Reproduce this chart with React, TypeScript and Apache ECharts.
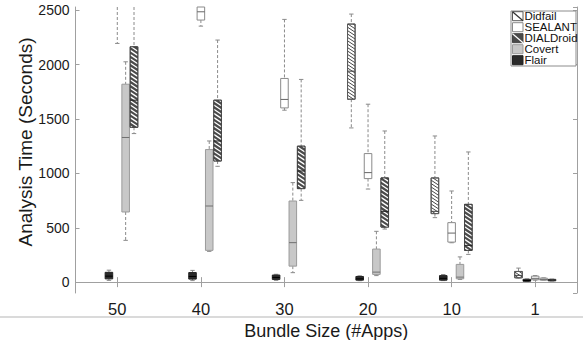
import React, { useEffect, useRef } from "react";
import * as echarts from "echarts";

const categories = ["50", "40", "30", "20", "10", "1"];
const yTicks = [0, 500, 1000, 1500, 2000, 2500];
const legendOrder = ["Didfail", "SEALANT", "DIALDroid", "Covert", "Flair"];

// Each row: [min, q1, median, q3, max] for the bundle sizes 50, 40, 30, 20, 10, 1
const didfail = [
  [2600, 2800, 3000, 3300, 3600],
  [2600, 2800, 3000, 3300, 3600],
  [2600, 2750, 2950, 3200, 3500],
  [1418, 1682, 1940, 2373, 2465],
  [593, 630, 651, 958, 1344],
  [37, 40, 62, 98, 129],
];
const flair = [
  [16, 30, 55, 90, 110],
  [14, 28, 52, 88, 108],
  [16, 25, 43, 65, 72],
  [13, 18, 30, 52, 58],
  [14, 18, 35, 60, 70],
  [5, 8, 15, 26, 30],
];
const sealant = [
  [2195, 2700, 2900, 3100, 3400],
  [2354, 2410, 2486, 2650, 2900],
  [1581, 1602, 1680, 1873, 2416],
  [856, 952, 1007, 1182, 1636],
  [362, 368, 451, 547, 838],
  [18, 22, 35, 55, 60],
];
const covert = [
  [384, 645, 1330, 1820, 2026],
  [283, 292, 700, 1219, 1298],
  [87, 147, 363, 746, 915],
  [60, 71, 92, 304, 467],
  [25, 31, 46, 163, 232],
  [16, 18, 25, 37, 40],
];
const dialdroid = [
  [1366, 1424, 1673, 2164, 2700],
  [1065, 1114, 1298, 1673, 2226],
  [752, 860, 1022, 1250, 1864],
  [488, 506, 651, 958, 1390],
  [255, 292, 338, 715, 1197],
  [10, 13, 18, 25, 28],
];

const FONT = "'Liberation Sans', Arial, Helvetica, sans-serif";
const FRAME = "#a0a0a0";
const WHISK = "#8a8a8a";

type Look = {
  fill: string;
  stroke: string;
  median: string;
  hatch?: { color: string; spacing: number; drop: number; width: number };
};

const looks: Record<string, Look> = {
  Didfail: { fill: "#ffffff", stroke: "#5a5a5a", median: "#444", hatch: { color: "#333", spacing: 3.4, drop: 5, width: 0.9 } },
  Flair: { fill: "#2a2a2a", stroke: "#222", median: "#000" },
  SEALANT: { fill: "#ffffff", stroke: "#8a8a8a", median: "#666" },
  Covert: { fill: "#c8c8c8", stroke: "#9a9a9a", median: "#707070" },
  DIALDroid: { fill: "#4a4a4a", stroke: "#444", median: "#222", hatch: { color: "#ffffff", spacing: 4.2, drop: 5, width: 1.3 } },
};

const seriesDefs: { name: string; data: number[][] }[] = [
  { name: "Didfail", data: didfail },
  { name: "Flair", data: flair },
  { name: "SEALANT", data: sealant },
  { name: "Covert", data: covert },
  { name: "DIALDroid", data: dialdroid },
];

function hatchLines(x0: number, w: number, ytop: number, ybot: number, h: { color: string; spacing: number; drop: number; width: number }) {
  const out: any[] = [];
  const d = h.drop;
  let a = Math.floor((ytop - d) / h.spacing) * h.spacing;
  while (a <= ybot) {
    const t0 = Math.max(0, (ytop - a) / d);
    const t1 = Math.min(1, (ybot - a) / d);
    if (t1 > t0) {
      out.push({
        type: "line",
        shape: { x1: x0 + t0 * w, y1: a + t0 * d, x2: x0 + t1 * w, y2: a + t1 * d },
        style: { stroke: h.color, lineWidth: h.width },
        silent: true,
      });
    }
    a += h.spacing;
  }
  return out;
}

function makeRender(k: number, look: Look) {
  return (params: any, api: any) => {
    const ci = api.value(0);
    const bw = api.size([1, 0])[0];
    const w = bw * 0.1;
    const cx = api.coord([ci, 0])[0] + (k - 2) * w;
    const cs = params.coordSys;
    const top = cs.y;
    const bot = cs.y + cs.height;
    const Y = (v: number) => api.coord([ci, v])[1];
    const cl = (y: number) => Math.max(top, Math.min(bot, y));
    const mn = api.value(1), q1 = api.value(2), md = api.value(3), q3 = api.value(4), mx = api.value(5);
    const yMx = Y(mx), yQ3 = Y(q3), yMd = Y(md), yQ1 = Y(q1), yMn = Y(mn);
    const children: any[] = [];
    const dash = { stroke: WHISK, lineWidth: 1, lineDash: [3, 2] };
    const capW = 2.2;
    if (cl(yQ3) - cl(yMx) > 0.5) {
      children.push({ type: "line", shape: { x1: cx, y1: cl(yMx), x2: cx, y2: cl(yQ3) }, style: dash });
    }
    if (yMx >= top && yMx <= bot) {
      children.push({ type: "line", shape: { x1: cx - capW, y1: yMx, x2: cx + capW, y2: yMx }, style: { stroke: WHISK, lineWidth: 1 } });
    }
    if (cl(yMn) - cl(yQ1) > 0.5) {
      children.push({ type: "line", shape: { x1: cx, y1: cl(yQ1), x2: cx, y2: cl(yMn) }, style: dash });
    }
    if (yMn >= top && yMn <= bot) {
      children.push({ type: "line", shape: { x1: cx - capW, y1: yMn, x2: cx + capW, y2: yMn }, style: { stroke: WHISK, lineWidth: 1 } });
    }
    const bt = cl(yQ3);
    const bb = cl(yQ1);
    if (bb - bt > 0.3) {
      const x0 = cx - w / 2 + 0.4;
      const bwid = w - 0.8;
      children.push({
        type: "rect",
        shape: { x: x0, y: bt, width: bwid, height: bb - bt },
        style: { fill: look.fill, stroke: look.stroke, lineWidth: 1 },
      });
      if (look.hatch) {
        children.push(...hatchLines(x0, bwid, bt, bb, look.hatch));
        children.push({
          type: "rect",
          shape: { x: x0, y: bt, width: bwid, height: bb - bt },
          style: { fill: "none", stroke: look.stroke, lineWidth: 1 },
        });
      }
      if (yMd >= top && yMd <= bot) {
        children.push({
          type: "line",
          shape: { x1: x0, y1: yMd, x2: x0 + bwid, y2: yMd },
          style: { stroke: look.median, lineWidth: 1 },
        });
      }
    }
    return { type: "group", children };
  };
}

function legendGraphics() {
  const els: any[] = [];
  const bx = 511, by = 11, bw = 65, bh = 55;
  els.push({ type: "rect", shape: { x: bx, y: by, width: bw, height: bh }, style: { fill: "#fff", stroke: "#8c8c8c", lineWidth: 1 }, z: 100 });
  legendOrder.forEach((name, i) => {
    const cy = 16.2 + i * 11;
    const ix = 512.5, iw = 10.5, ih = 9;
    const iy = cy - ih / 2;
    const look = looks[name];
    els.push({ type: "rect", shape: { x: ix, y: iy, width: iw, height: ih }, style: { fill: look.fill, stroke: look.stroke, lineWidth: 1 }, z: 101 });
    if (look.hatch) {
      els.push({ type: "line", shape: { x1: ix, y1: iy, x2: ix + iw, y2: iy + ih }, style: { stroke: look.hatch.color, lineWidth: 1.2 }, z: 102 });
    }
    els.push({
      type: "text",
      x: 524.5,
      y: cy,
      style: { text: name, font: `11.5px ${FONT}`, fill: "#111", textVerticalAlign: "middle", textAlign: "left" },
      z: 102,
    });
  });
  return els;
}

export default function App() {
  const ref = useRef<HTMLDivElement>(null);
  useEffect(() => {
    if (!ref.current) return;
    const chart = echarts.init(ref.current, undefined, { renderer: "svg" });
    const axisCommon = {
      axisLine: { show: true, lineStyle: { color: FRAME, width: 1 } },
      splitLine: { show: false },
    };
    const option: any = {
      animation: false,
      backgroundColor: "#ffffff",
      grid: { left: 75.5, right: 6, top: 7, bottom: 47, containLabel: false, outerBoundsMode: "none" },
      xAxis: [
        {
          type: "category",
          data: categories,
          position: "bottom",
          boundaryGap: true,
          ...axisCommon,
          axisTick: { show: true, inside: true, alignWithLabel: true, length: 5, lineStyle: { color: FRAME } },
          axisLabel: { fontSize: 16.5, color: "#1a1a1a", margin: 7, fontFamily: FONT },
          name: "Bundle Size (#Apps)",
          nameLocation: "middle",
          nameGap: 19,
          nameTextStyle: { fontSize: 18, color: "#1a1a1a", fontFamily: FONT, backgroundColor: "#ffffff", padding: [0, 2, 0, 2] },
        },
        {
          type: "category",
          data: categories,
          position: "top",
          boundaryGap: true,
          ...axisCommon,
          axisTick: { show: true, inside: true, alignWithLabel: true, length: 5, lineStyle: { color: FRAME } },
          axisLabel: { show: false },
        },
      ],
      yAxis: [
        {
          type: "value",
          min: -100,
          max: 2530,
          splitNumber: 5,
          position: "left",
          ...axisCommon,
          axisTick: { show: true, inside: true, length: 4, lineStyle: { color: FRAME } },
          axisLabel: {
            fontSize: 14,
            color: "#1a1a1a",
            margin: 6,
            fontFamily: FONT,
            showMinLabel: false,
            showMaxLabel: false,
            formatter: (v: number) => (yTicks.indexOf(v) >= 0 ? String(v) : ""),
          },
        },
        {
          type: "value",
          min: -100,
          max: 2530,
          splitNumber: 5,
          position: "right",
          ...axisCommon,
          axisTick: { show: true, inside: true, length: 4, lineStyle: { color: FRAME } },
          axisLabel: { show: false },
        },
      ],
      graphic: [
        { type: "line", shape: { x1: 0, y1: 317, x2: 583, y2: 317 }, style: { stroke: "#b5b5b5", lineWidth: 1 }, z: -10 },
        {
          type: "text",
          x: 25,
          y: 142,
          rotation: Math.PI / 2,
          style: { text: "Analysis Time (Seconds)", font: `19px ${FONT}`, fill: "#1a1a1a", textAlign: "center", textVerticalAlign: "middle" },
        },
        ...legendGraphics(),
      ],
      series: seriesDefs.map((s, k) => ({
        type: "custom",
        name: s.name,
        xAxisIndex: 0,
        yAxisIndex: 0,
        renderItem: makeRender(k, looks[s.name]),
        encode: { x: 0, y: [1, 2, 3, 4, 5] },
        data: s.data.map((row, ci) => [ci, ...row]),
        z: 2,
      })),
    };
    chart.setOption(option);
    return () => chart.dispose();
  }, []);
  return <div ref={ref} style={{ position: "fixed", left: 0, top: 0, width: 583, height: 340 }} />;
}
